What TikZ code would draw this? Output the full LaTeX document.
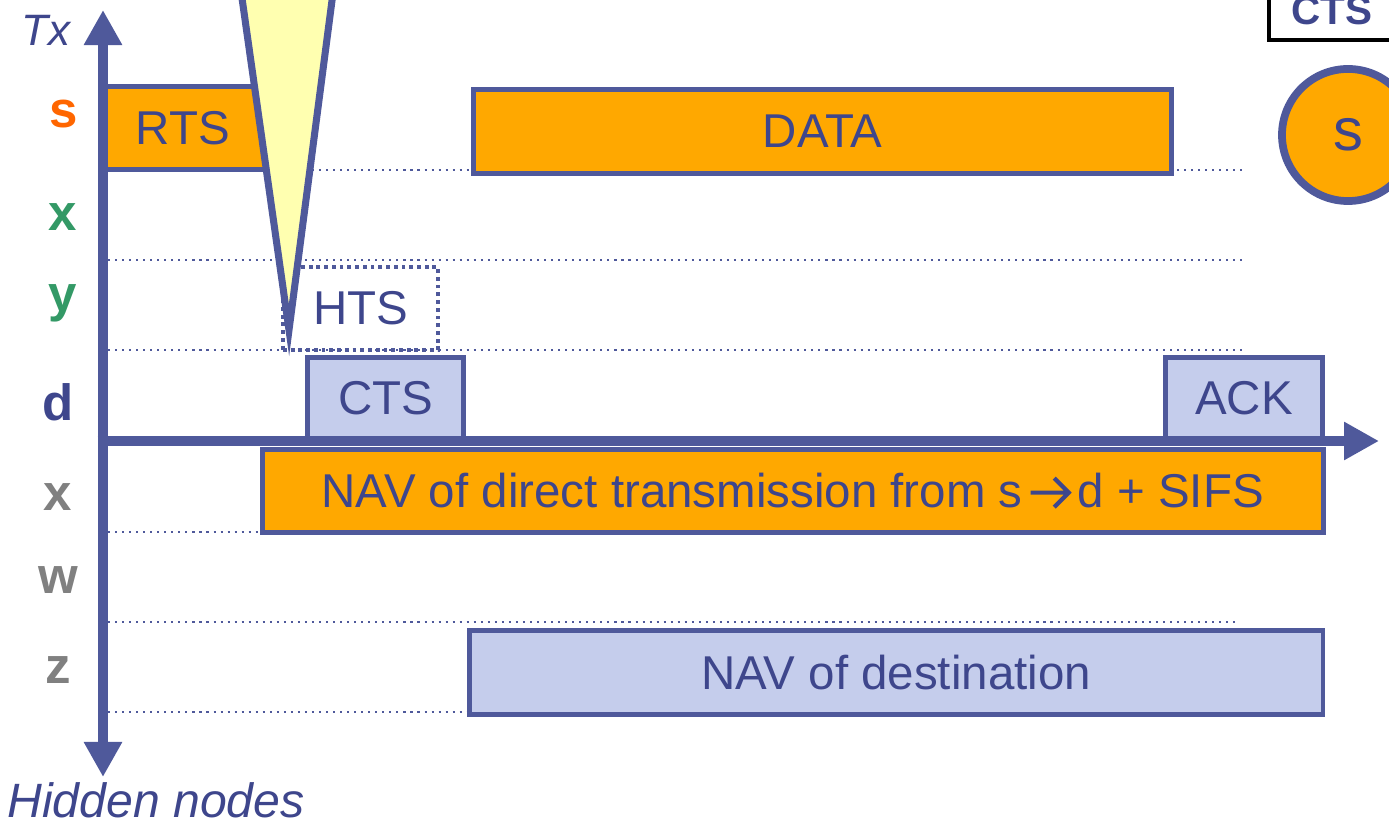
\documentclass[tikz,border=0pt]{standalone}
\usepackage{fontspec}
\setmainfont{Liberation Sans}
\usetikzlibrary{arrows.meta}
\definecolor{lineblue}{RGB}{79,89,155}
\definecolor{textblue}{RGB}{62,70,140}
\definecolor{orfill}{RGB}{255,168,0}
\definecolor{lbfill}{RGB}{197,205,236}
\definecolor{yelfill}{RGB}{255,255,176}
\definecolor{sorange}{RGB}{255,102,0}
\definecolor{lgreen}{RGB}{51,153,102}
\definecolor{lgrey}{RGB}{128,128,128}
\newcommand{\sdarrow}{\tikz[baseline=0pt]\draw[textblue, line width=1.2pt, line cap=butt, line join=miter, solid] (0cm,0.145cm) -- (0.375cm,0.145cm) (0.235cm,0.29cm) -- (0.38cm,0.145cm) -- (0.235cm,0cm);}
\begin{document}
\begin{tikzpicture}[x=0.01cm,y=-0.01cm,
  boxtext/.style={font=\fontsize{13.5}{16}\selectfont, text=textblue},
  tbox/.style={boxtext, draw=lineblue, line width=1.4pt, anchor=north west, inner sep=0pt},
  orbox/.style={tbox, fill=orfill},
  lbbox/.style={tbox, fill=lbfill},
  rowlbl/.style={font=\fontsize{14.5}{16}\selectfont\bfseries, anchor=base},
  grid/.style={lineblue, line width=0.6pt, dash pattern=on 0.6pt off 1.4pt},
  axis/.style={lineblue, line width=3.1pt, -{Triangle[width=0.36cm,length=0.35cm]}},
  axlbl/.style={font=\fontsize{12.5}{15}\selectfont\itshape, text=textblue, anchor=base}
]
\useasboundingbox (0,0) rectangle (1389,822);
\clip (0,0) rectangle (1389,822);

% dotted grid lines
\draw[grid] (108,170) -- (1245,170);
\draw[grid] (108,260) -- (1245,260);
\draw[grid] (108,350) -- (1245,350);
\draw[grid] (108,532) -- (1262,532);
\draw[grid] (108,622) -- (1240,622);
\draw[grid] (108,712) -- (467,712);

% boxes
\node[orbox, minimum width=1.67cm, minimum height=0.83cm] (rts) at (103,84) {\hspace*{-0.12cm}RTS};
\node[orbox, minimum width=6.98cm, minimum height=0.84cm] (data) at (471,87) {DATA};
\node[tbox, draw=lineblue, line width=1.1pt, dash pattern=on 1.1pt off 1.1pt, minimum width=1.55cm, minimum height=0.83cm] (hts) at (281,265) {HTS};
\node[lbbox, minimum width=1.56cm, minimum height=0.82cm] (cts) at (305,355) {CTS};
\node[lbbox, minimum width=1.57cm, minimum height=0.82cm] (ack) at (1163,355) {ACK};
\node[orbox, minimum width=10.6cm, minimum height=0.83cm] (nav) at (260,447) {NAV of direct transmission from s\hspace{0.06cm}\sdarrow\hspace{0.07cm}d + SIFS};
\node[lbbox, minimum width=8.53cm, minimum height=0.84cm] (navd) at (467,628) {NAV of destination};

% top-right CTS box and s circle
\node[draw=black, line width=1.1pt, anchor=north west, inner sep=0pt, minimum width=1.26cm, minimum height=0.58cm,
  font=\fontsize{11.5}{13}\selectfont\bfseries, text=textblue] (ctsr) at (1267,-20) {\raisebox{-0.06cm}{CTS}};
\node[circle, draw=lineblue, fill=orfill, line width=2.2pt, minimum size=1.32cm, inner sep=0pt, boxtext, font=\fontsize{17}{19}\selectfont] (snode) at (1348,135) {\raisebox{-0.04cm}{s}};

% yellow beam
\coordinate (bl) at (238,-30);
\coordinate (btip) at (289,330);
\coordinate (br) at (336,-30);
\draw[lineblue, fill=yelfill, line width=2pt, miter limit=12] (bl) -- (btip) -- (br) -- cycle;

% axes
\coordinate (o) at (103,441);
\coordinate (ytop) at (103,10);
\coordinate (ybot) at (103,777);
\coordinate (xend) at (1379,441);
\draw[axis] (o) -- (ytop);
\draw[axis] (o) -- (ybot);
\draw[axis] ([xshift=-1.5pt]o) -- (xend);

% row labels
\node[rowlbl, text=sorange] (ls) at (64,128) {s};
\node[rowlbl, text=lgreen] (lx) at (63,231) {x};
\node[rowlbl, text=lgreen] (ly) at (63,312) {y};
\node[rowlbl, text=textblue] (ld) at (58,421) {d};
\node[rowlbl, text=lgrey] (lx2) at (58,510) {x};
\node[rowlbl, text=lgrey] (lw) at (58,593) {w};
\node[rowlbl, text=lgrey] (lz) at (58,683) {z};

% axis labels
\node[axlbl] (tx) at (46,46) {Tx};
\node[axlbl, anchor=base west, font=\fontsize{13.7}{15}\selectfont\itshape] (hidden) at (-5,817) {Hidden nodes};
\node[axlbl, anchor=base west] (tlbl) at (1381,472) {t};
\end{tikzpicture}
\end{document}
